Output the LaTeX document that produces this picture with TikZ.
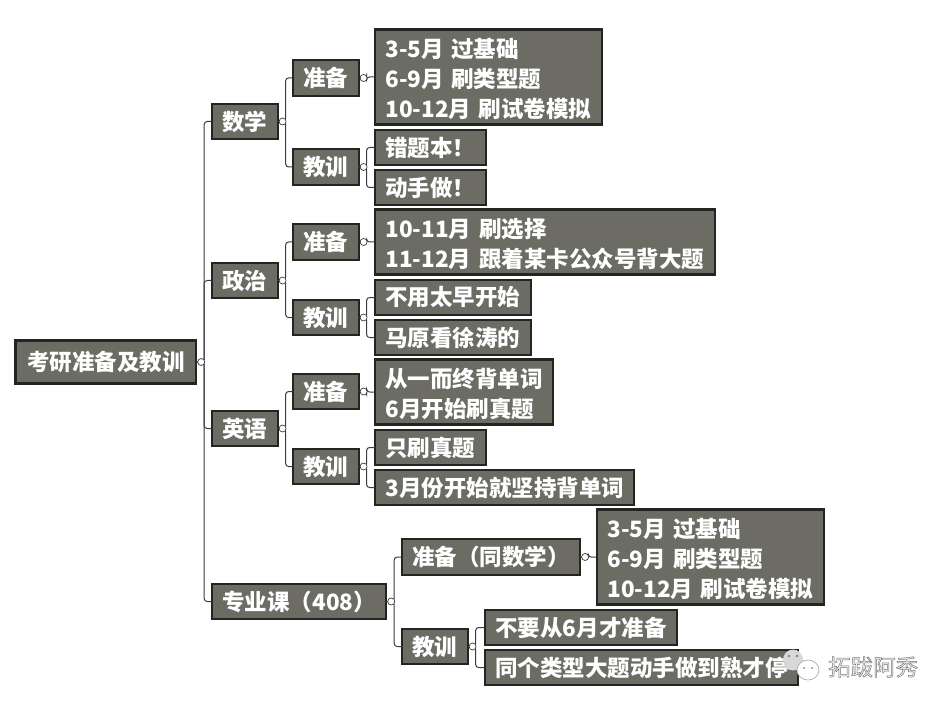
\documentclass[tikz,border=0pt]{standalone}
\usepackage{fontspec}
\setmainfont{Noto Sans CJK SC}[WordSpace=1.6]
\usepackage{xcolor}
\definecolor{boxfill}{HTML}{6C6C64}
\definecolor{boxline}{HTML}{242420}
\definecolor{linkline}{HTML}{3A3A40}
\definecolor{markfill}{HTML}{D8D8D8}
\newcommand{\lift}{\rule{0pt}{24pt}}
\tikzset{
  mapbox/.style={draw=boxline,line width=2.2pt,fill=boxfill,text=white,anchor=west,align=left,
    inner xsep=10.3pt,inner ysep=2pt,outer sep=0pt,minimum height=35.5pt,
    font=\fontsize{22.5}{30}\selectfont\bfseries},
  twoline/.style={minimum height=65pt},
  threeline/.style={minimum height=95pt},
  knob/.style={circle,draw=linkline,fill=white,line width=0.7pt,inner sep=0pt,minimum size=7pt,outer sep=0pt},
  link/.style={draw=linkline,line width=1pt,rounded corners=3pt}
}
\begin{document}
\begin{tikzpicture}[x=1pt,y=-1pt]
    \useasboundingbox (0,0) rectangle (949,708);
    % boxes
    \node[mapbox,minimum height=43pt,inner xsep=11.6pt] (root) at (15.5,362) {考研准备及教训};
    \node[mapbox] (shuxue) at (212,121.5) {数学};
    \node[mapbox] (zhengzhi) at (212,280.5) {政治};
    \node[mapbox] (yingyu) at (212,428.5) {英语};
    \node[mapbox] (zhuanye) at (212,601.5) {专业课（408）};

    \node[mapbox] (sxplan) at (293,78) {准备};
    \node[mapbox] (sxless) at (293,167) {教训};
    \node[mapbox] (zzplan) at (293,242) {准备};
    \node[mapbox] (zzless) at (293,317.5) {教训};
    \node[mapbox] (yyplan) at (293,391.5) {准备};
    \node[mapbox] (yyless) at (293,466.5) {教训};
    \node[mapbox] (zyplan) at (402,557) {准备（同数学）};
    \node[mapbox] (zyless) at (402,646.5) {教训};

    \node[mapbox,threeline,text width=206pt] (sxa) at (375,77) {\lift 3-5月 过基础\\6-9月 刷类型题\\10-12月 刷试卷模拟};
    \node[mapbox] (sxb) at (375,147.5) {错题本！};
    \node[mapbox] (sxc) at (375,187.5) {动手做！};
    \node[mapbox,twoline] (zza) at (375,242) {\lift 10-11月 刷选择\\11-12月 跟着某卡公众号背大题};
    \node[mapbox] (zzb) at (375,297.5) {不用太早开始};
    \node[mapbox] (zzc) at (375,337.5) {马原看徐涛的};
    \node[mapbox,twoline] (yya) at (375,392) {\lift 从一而终背单词\\6月开始刷真题};
    \node[mapbox] (yyb) at (375,447.5) {只刷真题};
    \node[mapbox] (yyc) at (375,487.5) {3月份开始就坚持背单词};
    \node[mapbox,threeline,text width=206pt] (zya) at (597,557) {\lift 3-5月 过基础\\6-9月 刷类型题\\10-12月 刷试卷模拟};
    \node[mapbox] (zyb) at (485,627.5) {不要从6月才准备};
    \node[mapbox] (zyc) at (485,667.5) {同个类型大题动手做到熟才停};

    % connectors
    \foreach \p/\c in {root/shuxue,root/zhengzhi,root/yingyu,root/zhuanye,
        shuxue/sxplan,shuxue/sxless,zhengzhi/zzplan,zhengzhi/zzless,
        yingyu/yyplan,yingyu/yyless,zhuanye/zyplan,zhuanye/zyless,
        sxplan/sxa,sxless/sxb,sxless/sxc,zzplan/zza,zzless/zzb,zzless/zzc,
        yyplan/yya,yyless/yyb,yyless/yyc,zyplan/zya,zyless/zyb,zyless/zyc}
    {
      \draw[link] (\p.east) -- ++(8,0) |- (\c.west);
    }
    \foreach \p in {root,shuxue,zhengzhi,yingyu,zhuanye,sxplan,sxless,zzplan,zzless,yyplan,yyless,zyplan,zyless}
    {
      \node[knob] (\p-knob) at ([xshift=5pt]\p.east) {};
    }

    % watermark
    \fill[markfill] (793,660) ellipse (10 and 10.5);
    \fill[markfill] (786,670) -- (788,661) -- (793,668) -- cycle;
    \fill[white,draw=gray!65,line width=0.7pt] (808,670) ellipse (11 and 10);
    \fill[gray] (789,656) circle (1.3) (797,656) circle (1.3) (804,668) circle (1) (812,668) circle (1);
    \node[anchor=west,inner sep=0pt,font=\fontsize{22.5}{24}\selectfont] (mark) at (828,667)
      {\special{pdf:code 2 Tr 0.45 w 0.45 0.45 0.45 RG 0.93 0.93 0.93 rg}拓跋阿秀\special{pdf:code 0 Tr 0 0 0 RG 0 0 0 rg}};
\end{tikzpicture}
\end{document}
